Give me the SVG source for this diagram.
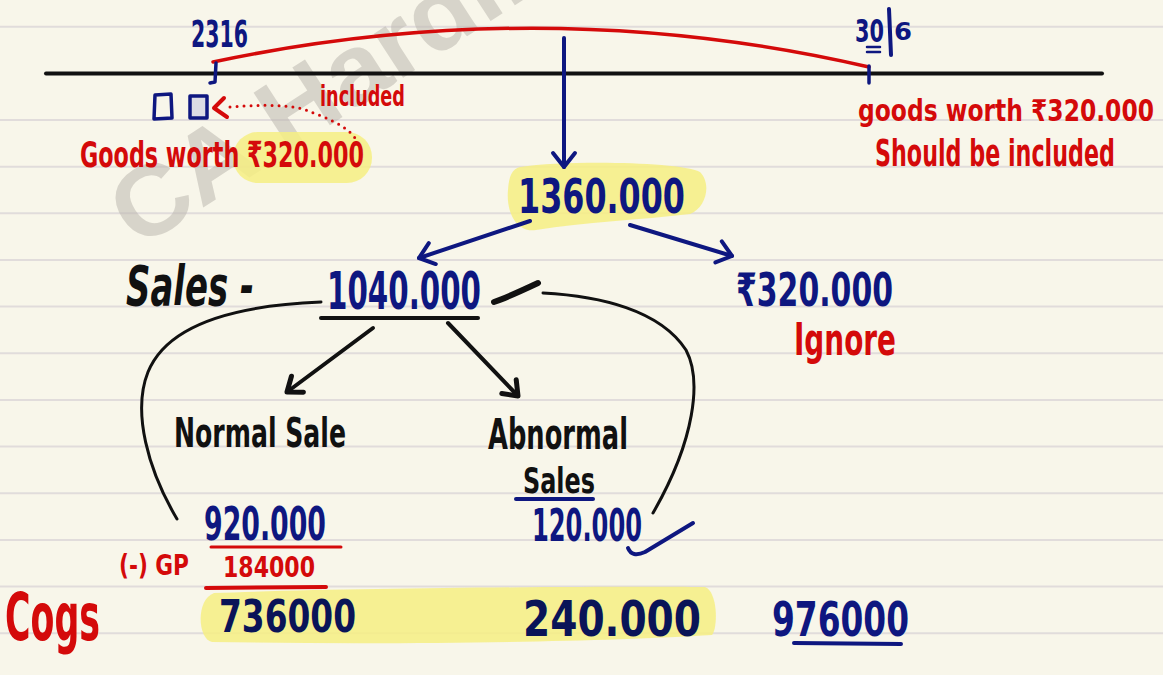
<svg xmlns="http://www.w3.org/2000/svg" width="1163" height="675" viewBox="0 0 1163 675">
  <defs>
    <style>
      .hand { font-family: "Liberation Sans Narrow", "DejaVu Sans Condensed", "Liberation Sans", "Noto Sans", sans-serif; font-weight: 700; }
      .blue { fill: #0e1780; }
      .navy { fill: #0a1458; }
      .red { fill: #d40a0a; }
      .black { fill: #111111; }
      .rule { stroke: #e1dcdb; stroke-width: 2; }
      .ink-blue { stroke: #0e1780; fill: none; stroke-linecap: round; stroke-linejoin: round; }
      .ink-black { stroke: #111111; fill: none; stroke-linecap: round; stroke-linejoin: round; }
      .ink-red { stroke: #d40a0a; fill: none; stroke-linecap: round; stroke-linejoin: round; }
      .hl { fill: #f6ef83; opacity: 0.85; }
      .mark { font-family: "Liberation Sans", "DejaVu Sans", sans-serif; font-weight: 700; fill: #bdb9b0; opacity: 0.55; }
    </style>
    <marker id="chev-blue" markerUnits="userSpaceOnUse" markerWidth="30" markerHeight="30" refX="0" refY="0" orient="auto" overflow="visible">
      <path d="M-14,-11 L0,0 L-14,11" fill="none" stroke="#0e1780" stroke-width="4" stroke-linecap="round" stroke-linejoin="round"/>
    </marker>
    <marker id="chev-black" markerUnits="userSpaceOnUse" markerWidth="30" markerHeight="30" refX="0" refY="0" orient="auto" overflow="visible">
      <path d="M-13,-10 L0,0 L-13,10" fill="none" stroke="#111111" stroke-width="5" stroke-linecap="round" stroke-linejoin="round"/>
    </marker>
  </defs>

  <!-- paper -->
  <rect width="1163" height="675" fill="#f8f6ea"/>
  <g id="ruling">
    <line class="rule" x1="0" y1="26.7" x2="1163" y2="26.7"/>
    <line class="rule" x1="0" y1="120" x2="1163" y2="120"/>
    <line class="rule" x1="0" y1="166.7" x2="1163" y2="166.7"/>
    <line class="rule" x1="0" y1="213.3" x2="1163" y2="213.3"/>
    <line class="rule" x1="0" y1="260" x2="1163" y2="260"/>
    <line class="rule" x1="0" y1="306.6" x2="1163" y2="306.6"/>
    <line class="rule" x1="0" y1="353.3" x2="1163" y2="353.3"/>
    <line class="rule" x1="0" y1="400" x2="1163" y2="400"/>
    <line class="rule" x1="0" y1="446.6" x2="1163" y2="446.6"/>
    <line class="rule" x1="0" y1="493.2" x2="1163" y2="493.2"/>
    <line class="rule" x1="0" y1="540" x2="1163" y2="540"/>
    <line class="rule" x1="0" y1="586.5" x2="1163" y2="586.5"/>
    <line class="rule" x1="0" y1="633.2" x2="1163" y2="633.2"/>
  </g>

  <!-- watermark -->
  <text class="mark" transform="translate(138,250) rotate(-33)" font-size="100" textLength="500" lengthAdjust="spacingAndGlyphs">CA Hardik</text>

  <!-- highlighter strokes -->
  <g id="highlights">
    <rect class="hl" x="233" y="132" width="139" height="51" rx="25"/>
    <path class="hl" d="M520,167 C570,160 680,162 700,172 C712,184 706,208 690,214 C640,220 585,222 536,230 C515,233 506,210 508,190 C509,176 512,169 520,167 Z"/>
    <path class="hl" d="M214,593 C350,588 600,586 705,587 C718,592 718,628 712,635 C600,642 400,645 212,642 C198,640 195,600 214,593 Z"/>
  </g>

  <!-- timeline -->
  <g id="timeline">
    <line x1="46" y1="73.5" x2="1102" y2="73.5" stroke="#111111" stroke-width="4" stroke-linecap="round"/>
    <path class="ink-red" stroke-width="3.5" d="M213,62 Q545,-8 869,67"/>
    <path class="ink-blue" stroke-width="3.5" d="M216,63 L215,82 L210,83"/>
    <line class="ink-blue" stroke-width="3.5" x1="869" y1="66" x2="869" y2="83"/>
  </g>

  <g id="date-start">
    <text class="hand blue" x="191" y="47" font-size="38" textLength="57" lengthAdjust="spacingAndGlyphs">2316</text>
  </g>

  <g id="date-end">
    <text class="hand blue" x="855" y="42" font-size="32" textLength="29" lengthAdjust="spacingAndGlyphs">30</text>
    <line class="ink-blue" stroke-width="4" x1="889" y1="9" x2="891" y2="55"/>
    <text class="hand blue" x="894" y="40" font-size="25" textLength="18" lengthAdjust="spacingAndGlyphs">6</text>
    <line class="ink-blue" stroke-width="2.5" x1="867" y1="47" x2="880" y2="47"/>
    <line class="ink-blue" stroke-width="2.5" x1="867" y1="52" x2="880" y2="52"/>
  </g>

  <g id="goods-boxes">
    <path class="ink-blue" stroke-width="3.5" d="M155,95 L171,94 L172,118 L154,119 Z"/>
    <rect x="190" y="96" width="17" height="22" fill="#dcdce4" stroke="#0e1780" stroke-width="3.5" stroke-linejoin="round"/>
  </g>

  <g id="note-included">
    <text class="hand red" x="320" y="106" font-size="28" textLength="85" lengthAdjust="spacingAndGlyphs">included</text>
  </g>

  <g id="note-goods-left">
    <text class="hand red" x="80" y="167" font-size="36" textLength="284" lengthAdjust="spacingAndGlyphs">Goods worth ₹320.000</text>
  </g>

  <!-- tall narrow hand lettering: smaller font stretched vertically -->
  <g id="note-goods-right">
    <text class="hand red" transform="translate(858,121) scale(1,1.15)" font-size="26" textLength="296" lengthAdjust="spacingAndGlyphs">goods worth ₹320.000</text>
    <text class="hand red" transform="translate(875,166) scale(1,1.3)" font-size="29" textLength="240" lengthAdjust="spacingAndGlyphs">Should be included</text>
  </g>

  <g id="total">
    <text class="hand blue" x="518" y="213" font-size="48" textLength="167" lengthAdjust="spacingAndGlyphs">1360.000</text>
  </g>

  <g id="sales">
    <text class="hand black" x="126" y="305" font-size="56" font-style="italic" textLength="128" lengthAdjust="spacingAndGlyphs">Sales -</text>
    <text class="hand blue" x="327" y="309" font-size="52" textLength="154" lengthAdjust="spacingAndGlyphs">1040.000</text>
    <line class="ink-black" stroke-width="4" x1="321" y1="318" x2="478" y2="318"/>
    <path class="ink-black" stroke-width="6" d="M494,302 Q506,298 538,283"/>
  </g>

  <g id="ignored">
    <text class="hand blue" x="736" y="306" font-size="46" textLength="157" lengthAdjust="spacingAndGlyphs">₹320.000</text>
    <text class="hand red" x="794" y="355" font-size="45" textLength="102" lengthAdjust="spacingAndGlyphs">Ignore</text>
  </g>

  <g id="normal-sale">
    <text class="hand black" x="174" y="447" font-size="41" textLength="172" lengthAdjust="spacingAndGlyphs">Normal Sale</text>
    <text class="hand blue" x="204" y="540" font-size="46" textLength="122" lengthAdjust="spacingAndGlyphs">920.000</text>
    <line class="ink-red" stroke-width="3" x1="211" y1="547" x2="341" y2="547"/>
    <text class="hand red" x="119" y="575" font-size="28" textLength="70" lengthAdjust="spacingAndGlyphs">(-) GP</text>
    <text class="hand red" x="223" y="577" font-size="28" textLength="92" lengthAdjust="spacingAndGlyphs">184000</text>
    <line class="ink-red" stroke-width="4" x1="206" y1="588" x2="326" y2="587"/>
  </g>

  <g id="abnormal-sales">
    <text class="hand black" x="488" y="449" font-size="42" textLength="140" lengthAdjust="spacingAndGlyphs">Abnormal</text>
    <text class="hand black" x="523" y="493" font-size="36" textLength="72" lengthAdjust="spacingAndGlyphs">Sales</text>
    <line class="ink-blue" stroke-width="4" x1="516" y1="499" x2="593" y2="499"/>
    <text class="hand blue" x="532" y="541" font-size="45" textLength="110" lengthAdjust="spacingAndGlyphs">120.000</text>
    <path class="ink-blue" stroke-width="4" d="M628,548 Q632,558 645,552 L693,523"/>
  </g>

  <g id="cogs">
    <text class="hand red" x="5" y="640" font-size="66" textLength="95" lengthAdjust="spacingAndGlyphs">Cogs</text>
    <text class="hand navy" x="219" y="632" font-size="44" textLength="137" lengthAdjust="spacingAndGlyphs">736000</text>
    <text class="hand navy" x="523" y="636" font-size="50" textLength="178" lengthAdjust="spacingAndGlyphs">240.000</text>
    <text class="hand blue" x="772" y="636" font-size="48" textLength="137" lengthAdjust="spacingAndGlyphs">976000</text>
    <line class="ink-blue" stroke-width="4" x1="794" y1="643" x2="901" y2="644"/>
  </g>

  <!-- connectors -->
  <g id="connectors">
    <path class="ink-red" stroke-width="3" stroke-dasharray="0 7" d="M230,107 C265,104 292,105 306,110 C324,117 346,125 355,138"/>
    <path class="ink-red" stroke-width="4" d="M224,98 L214,108 L227,117"/>
    <line class="ink-blue" stroke-width="4" x1="564" y1="38" x2="564" y2="167" marker-end="url(#chev-blue)"/>
    <line class="ink-blue" stroke-width="4" x1="530" y1="221" x2="419" y2="258" marker-end="url(#chev-blue)"/>
    <line class="ink-blue" stroke-width="4" x1="630" y1="225" x2="732" y2="256" marker-end="url(#chev-blue)"/>
    <line class="ink-black" stroke-width="4" x1="373" y1="328" x2="287" y2="392" marker-end="url(#chev-black)"/>
    <line class="ink-black" stroke-width="4" x1="448" y1="323" x2="518" y2="396" marker-end="url(#chev-black)"/>
    <path class="ink-black" stroke-width="3" d="M321,302 C220,306 165,330 148,372 C132,412 148,470 177,519"/>
    <path class="ink-black" stroke-width="3" d="M543,293 C600,296 660,310 686,350 C702,380 695,440 653,513"/>
  </g>
</svg>
